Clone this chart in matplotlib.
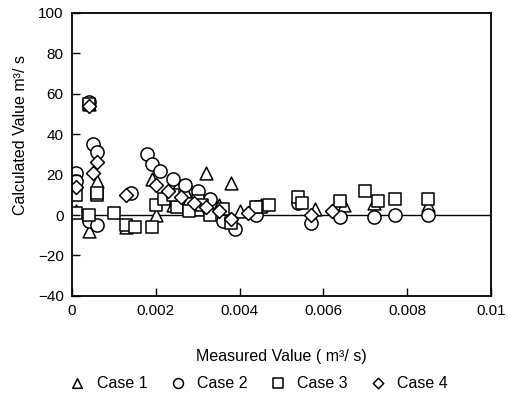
import matplotlib
matplotlib.use("Agg")
import matplotlib.pyplot as plt

plt.rcParams['font.family'] = ['Liberation Sans', 'DejaVu Sans']

# values (measured m3/s, calculated m3/s)
case1_x = [0.0004, 0.0006, 0.0001, 0.0004, 0.0019, 0.0022, 0.0025, 0.0028, 0.0032, 0.0035,
           0.0038, 0.0040, 0.0045, 0.0058, 0.0065, 0.0072, 0.0085, 0.0013, 0.0020, 0.0030,
           0.0024, 0.0027]
case1_y = [55, 17, 2, -8, 18, 10, 14, 8, 21, 5, 16, 2, 5, 3, 5, 6, 5, -6, 0, 3,
           5, 12]

case2_x = [0.0001, 0.0001, 0.0004, 0.0005, 0.0006, 0.0004, 0.0018, 0.0019, 0.0021, 0.0024,
           0.0027, 0.0030, 0.0033, 0.0036, 0.0039, 0.0044, 0.0054, 0.0057, 0.0064, 0.0072,
           0.0077, 0.0085, 0.0014, 0.0006]
case2_y = [21, 17, 56, 35, 31, -3, 30, 25, 22, 18, 15, 12, 8, -3, -7, 0, 6, -4, -1, -1,
           0, 0, 11, -5]

case3_x = [0.0001, 0.0001, 0.0006, 0.0006, 0.0004, 0.0010, 0.0013, 0.0015, 0.0019, 0.0020,
           0.0022, 0.0025, 0.0028, 0.0030, 0.0033, 0.0036, 0.0038, 0.0045, 0.0047, 0.0054,
           0.0055, 0.0064, 0.0070, 0.0073, 0.0077, 0.0085, 0.0044, 0.0004, 0.0024, 0.0031]
case3_y = [10, 1, 10, 11, 0, 1, -5, -6, -6, 5, 8, 4, 2, 7, 0, 3, -4, 4, 5, 9,
           6, 7, 12, 7, 8, 8, 4, 55, 10, 5]

case4_x = [0.0004, 0.0006, 0.0005, 0.0001, 0.0013, 0.0020, 0.0023, 0.0026, 0.0029, 0.0032,
           0.0035, 0.0038, 0.0042, 0.0057, 0.0062]
case4_y = [54, 26, 21, 14, 10, 15, 12, 9, 6, 4, 2, -2, 1, 0, 2]

fig = plt.figure(figsize=(5.09, 4.01), dpi=100)
ax = fig.add_axes([0.1415, 0.262, 0.823, 0.706])

style = dict(facecolor='white', edgecolors='black', linewidths=1.1)
ax.scatter(case1_x, case1_y, marker='^', s=85, label='Case 1', **style)
ax.scatter(case2_x, case2_y, marker='o', s=90, label='Case 2', **style)
ax.scatter(case3_x, case3_y, marker='s', s=85, label='Case 3', **style)
ax.scatter(case4_x, case4_y, marker='D', s=50, label='Case 4', **style)

ax.axhline(0, color='black', lw=1.0, zorder=0)

ax.set_xlim(0, 0.01)
ax.set_ylim(-40, 100)
ax.set_xticks([0, 0.002, 0.004, 0.006, 0.008, 0.01])
ax.set_xticklabels(['0', '0.002', '0.004', '0.006', '0.008', '0.01'])
ax.set_yticks(range(-40, 101, 20))
ax.set_yticklabels(['\u221240', '\u221220', '0', '20', '40', '60', '80', '100'])
ax.tick_params(direction='in', length=6, width=1, labelsize=11, pad=6)
for sp in ax.spines.values():
    sp.set_linewidth(1.3)

ax.set_xlabel('Measured Value ( m³/ s)', fontsize=11.5, labelpad=22)
ax.set_ylabel('Calculated Value m³/ s', fontsize=11.5)
ax.yaxis.set_label_coords(-0.105, 0.57)

fig.legend(loc='lower center', bbox_to_anchor=(0.5, -0.01), ncol=4, frameon=False,
           fontsize=11.5, handletextpad=0.2, columnspacing=0.9, markerscale=0.75)

fig.savefig('out.png', dpi=100)
